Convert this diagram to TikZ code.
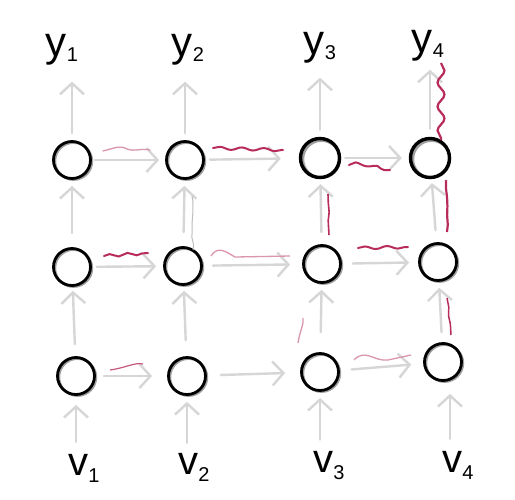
\documentclass[tikz,border=0pt]{standalone}
\usepackage{fontspec}
\setmainfont{Liberation Sans}
\usetikzlibrary{arrows.meta,decorations.pathmorphing}
\definecolor{arr}{RGB}{214,214,214}
\definecolor{mag}{RGB}{184,44,92}
\definecolor{lmag}{RGB}{218,150,170}
\definecolor{cshadow}{RGB}{160,160,160}
\begin{document}
\begin{tikzpicture}[x=1pt,y=-1pt,
  unit/.style={circle,draw=black,line width=2.8pt,minimum size=37pt,inner sep=0pt},
  bunit/.style={unit,line width=3.4pt,minimum size=39pt},
  shadowc/.style={draw=cshadow,line width=2.4pt},
  garrow/.style={draw=arr,line width=2.4pt,line cap=round,-{Straight Barb[length=11pt,width=24pt,line width=2.4pt]}},
  wig/.style={draw=mag,line width=2pt,line cap=round,decorate,decoration={snake,amplitude=1.4pt,segment length=22pt}},
  gwig/.style={draw=cshadow!70,line width=1pt,decorate,decoration={random steps,segment length=6pt,amplitude=1pt}},
  ylab/.style={font=\fontsize{42}{42}\selectfont,inner sep=0pt},
  vlab/.style={font=\fontsize{40}{40}\selectfont,inner sep=0pt}]
\path[use as bounding box,fill=white] (0,0) rectangle (515,499);

% shadow strokes of the hand-drawn circles
\foreach \x/\y in {72/160,185/160,320/158,430/158,72/267,183/266,322/264,438/262,76/376,187/376,320/372,443/362}
  \draw[shadowc] (\x+1.5,\y+1.2) circle (18.5);

% units
\node[unit] (c11) at (72,160) {};
\node[unit] (c12) at (185,160) {};
\node[bunit] (c13) at (320,158) {};
\node[bunit] (c14) at (430,158) {};
\node[unit] (c21) at (72,267) {};
\node[unit] (c22) at (183,266) {};
\node[unit] (c23) at (322,264) {};
\node[unit] (c24) at (438,262) {};
\node[unit] (c31) at (76,376) {};
\node[unit] (c32) at (187,376) {};
\node[unit] (c33) at (320,372) {};
\node[unit] (c34) at (443,362) {};

% labels
\node[ylab] (y1) at (62,50) {y\raisebox{-5pt}{\fontsize{20}{20}\selectfont 1}};
\node[ylab] (y2) at (188,50) {y\raisebox{-5pt}{\fontsize{20}{20}\selectfont 2}};
\node[ylab] (y3) at (320,48) {y\raisebox{-5pt}{\fontsize{20}{20}\selectfont 3}};
\node[ylab] (y4) at (428,46) {y\raisebox{-5pt}{\fontsize{20}{20}\selectfont 4}};
\node[vlab] (v1) at (84,468) {v\raisebox{-7pt}{\fontsize{20}{20}\selectfont 1}};
\node[vlab] (v2) at (194,467) {v\raisebox{-7pt}{\fontsize{20}{20}\selectfont 2}};
\node[vlab] (v3) at (329,466) {v\raisebox{-7pt}{\fontsize{20}{20}\selectfont 3}};
\node[vlab] (v4) at (458,465) {v\raisebox{-7pt}{\fontsize{20}{20}\selectfont 4}};

% output arrows
\draw[garrow,shorten <=7pt,shorten >=16pt] (c11) -- (c11 |- y1.south);
\draw[garrow,shorten <=7pt,shorten >=16pt] (c12) -- (c12 |- y2.south);
\draw[garrow,shorten <=7pt,shorten >=14pt] (c13) -- (c13 |- y3.south);
\draw[garrow,shorten <=8pt,shorten >=8pt] (c14) -- (c14 |- y4.south);

% horizontal arrows
\draw[garrow,shorten <=3pt,shorten >=6pt] (c11) -- (c12);
\draw[garrow,shorten <=5pt,shorten >=18pt] (c12) -- (c13);
\draw[garrow,shorten <=4pt,shorten >=7pt] (c13) -- (c14);
\draw[garrow,shorten <=5pt,shorten >=7pt] (c21) -- (c22);
\draw[garrow,shorten <=10pt,shorten >=12pt] (c22) -- (c23);
\draw[garrow,shorten <=11pt,shorten >=9pt] (c23) -- (c24);
\draw[garrow,shorten <=8pt,shorten >=15pt] (c31) -- (c32);
\draw[garrow,shorten <=14pt,shorten >=15pt] (c32) -- (c33);
\draw[garrow,shorten <=12pt,shorten >=12pt] (c33) -- (c34);

% vertical arrows between layers
\draw[garrow,shorten <=14pt,shorten >=6pt] (c21) -- (c11);
\draw[garrow,shorten <=14pt,shorten >=6pt] (c22) -- (c12);
\draw[garrow,shorten <=12pt,shorten >=5pt] (c23) -- (c13);
\draw[garrow,shorten <=12pt,shorten >=4pt] (c24) -- (c14);
\draw[garrow,shorten <=12pt,shorten >=4pt] (c31) -- (c21);
\draw[garrow,shorten <=16pt,shorten >=5pt] (c32) -- (c22);
\draw[garrow,shorten <=20pt,shorten >=6pt] (c33) -- (c23);
\draw[garrow,shorten <=10pt,shorten >=6pt] (c34) -- (c24);

% input arrows
\draw[garrow,shorten <=12pt,shorten >=9pt] (c31 |- v1.north) -- (c31);
\draw[garrow,shorten <=10pt,shorten >=6pt] (c32 |- v2.north) -- (c32);
\draw[garrow,shorten <=12pt,shorten >=6pt] (c33 |- v3.north) -- (c33);
\draw[garrow,shorten <=12pt,shorten >=12pt] ([xshift=7pt]c34 |- v4.north) -- ([xshift=7pt]c34.south);

% magenta wiggles
\draw[draw=lmag,line width=1.3pt,line cap=round] (103,151) .. controls (115,148) and (120,145) .. (127,149) .. controls (135,152) and (140,148) .. (150,150);
\draw[wig] (213,148) -- (283,150);
\draw[wig] (349,165) .. controls (360,163) and (370,170) .. (390,170);
\draw[draw=mag,line width=2.2pt,decorate,decoration={snake,amplitude=3.5pt,segment length=24pt}] (441,63) -- (441,140);
\draw[draw=mag,line width=2.2pt,decorate,decoration={random steps,segment length=9pt,amplitude=1pt}] (446,180) -- (447,232);
\draw[draw=mag,line width=1.6pt,decorate,decoration={random steps,segment length=9pt,amplitude=0.8pt}] (328,194) -- (329,235);
\draw[wig] (358,248) -- (408,247);
\draw[draw=mag,line width=1.5pt,decorate,decoration={random steps,segment length=9pt,amplitude=1.2pt}] (447,298) -- (451,335);
\draw[draw=lmag,line width=1.3pt] (354,360) .. controls (365,348) and (375,362) .. (388,360) -- (411,355);
\draw[draw=lmag,line width=1.3pt] (298,343) .. controls (300,330) and (304,325) .. (303,318);
\draw[wig,decoration={snake,amplitude=1.5pt,segment length=18pt}] (104,256) -- (148,253);
\draw[draw=lmag,line width=1.3pt] (211,256) .. controls (218,245) and (226,252) .. (235,257) -- (290,256);
\draw[draw=mag!80,line width=1.2pt] (110,370) .. controls (125,368) and (135,362) .. (143,364);
\draw[gwig] (193,250) -- (192,196);
\end{tikzpicture}
\end{document}
